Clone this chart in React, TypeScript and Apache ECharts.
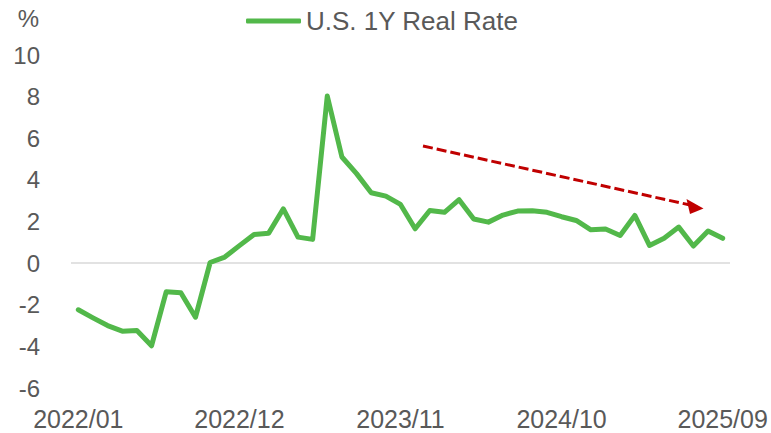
import React, { useEffect, useRef } from "react";
import * as echarts from "echarts";

const categories: string[] = [
  "2022/01", "2022/02", "2022/03", "2022/04", "2022/05", "2022/06", "2022/07", "2022/08", "2022/09", "2022/10", "2022/11", "2022/12",
  "2023/01", "2023/02", "2023/03", "2023/04", "2023/05", "2023/06", "2023/07", "2023/08", "2023/09", "2023/10", "2023/11", "2023/12",
  "2024/01", "2024/02", "2024/03", "2024/04", "2024/05", "2024/06", "2024/07", "2024/08", "2024/09", "2024/10", "2024/11", "2024/12",
  "2025/01", "2025/02", "2025/03", "2025/04", "2025/05", "2025/06", "2025/07", "2025/08", "2025/09",
];

const realRate: number[] = [
  -2.24, -2.63, -3.0, -3.27, -3.24, -3.97, -1.38, -1.42, -2.6, 0.03, 0.29, 0.84,
  1.38, 1.44, 2.61, 1.25, 1.14, 8.03, 5.1, 4.3, 3.38, 3.22, 2.82, 1.65,
  2.53, 2.44, 3.05, 2.12, 1.97, 2.31, 2.5, 2.52, 2.44, 2.23, 2.05, 1.6,
  1.64, 1.33, 2.29, 0.85, 1.2, 1.73, 0.82, 1.54, 1.19,
];

const yTicks = { min: -6, max: 10, interval: 2 };
const seriesName = "U.S. 1Y Real Rate";
const unitLabel = "%";

const FONT = "'Liberation Sans', Arial, sans-serif";
const GREEN = "#52B84A";
const GREY_TEXT = "#595959";
const RED = "#C00000";

export default function App() {
  const ref = useRef<HTMLDivElement>(null);

  useEffect(() => {
    if (!ref.current) return;
    const chart = echarts.init(ref.current, undefined, { renderer: "svg" });
    chart.setOption({
      animation: false,
      backgroundColor: "#ffffff",
      textStyle: { fontFamily: FONT },
      grid: { left: 71, right: 41, top: 55, bottom: 45, containLabel: false },
      legend: {
        data: [seriesName],
        left: 241,
        top: 3,
        icon: "roundRect",
        itemWidth: 55,
        itemHeight: 5,
        textStyle: { fontSize: 26, color: GREY_TEXT, fontFamily: FONT },
      },
      xAxis: {
        type: "category",
        data: categories,
        boundaryGap: true,
        axisLine: { show: false },
        axisTick: { show: false },
        splitLine: { show: false },
        axisLabel: {
          interval: 10,
          color: GREY_TEXT,
          fontSize: 25,
          fontFamily: FONT,
          margin: 18,
        },
      },
      yAxis: {
        type: "value",
        min: yTicks.min,
        max: yTicks.max,
        interval: yTicks.interval,
        axisLine: { show: false },
        axisTick: { show: false },
        splitLine: { show: false },
        axisLabel: {
          color: GREY_TEXT,
          fontSize: 24,
          fontFamily: FONT,
          margin: 31,
        },
      },
      series: [
        {
          name: seriesName,
          type: "line",
          data: realRate,
          showSymbol: false,
          symbol: "none",
          itemStyle: { color: GREEN },
          lineStyle: { color: GREEN, width: 5, join: "round", cap: "round" },
          markLine: {
            silent: true,
            symbol: ["none", "none"],
            label: { show: false },
            lineStyle: { color: "#D9D9D9", width: 1.5, type: "solid" },
            data: [{ yAxis: 0 }],
            z: 1,
          },
          z: 3,
        },
      ],
      graphic: [
        {
          type: "text",
          x: 39,
          y: 18,
          style: {
            text: unitLabel,
            fontSize: 24,
            fontFamily: FONT,
            fill: GREY_TEXT,
            align: "right",
            verticalAlign: "middle",
          },
        },
        {
          type: "line",
          shape: { x1: 423, y1: 146, x2: 690, y2: 205 },
          style: { stroke: RED, lineWidth: 3, lineDash: [10, 4] },
          z: 10,
        },
        {
          type: "polygon",
          shape: { points: [[686.5, 199], [690, 214], [703.5, 208.5]] },
          style: { fill: RED },
          z: 10,
        },
      ],
    });
    return () => chart.dispose();
  }, []);

  return (
    <div
      ref={ref}
      style={{ position: "fixed", left: 0, top: 0, width: 771, height: 433 }}
    />
  );
}
